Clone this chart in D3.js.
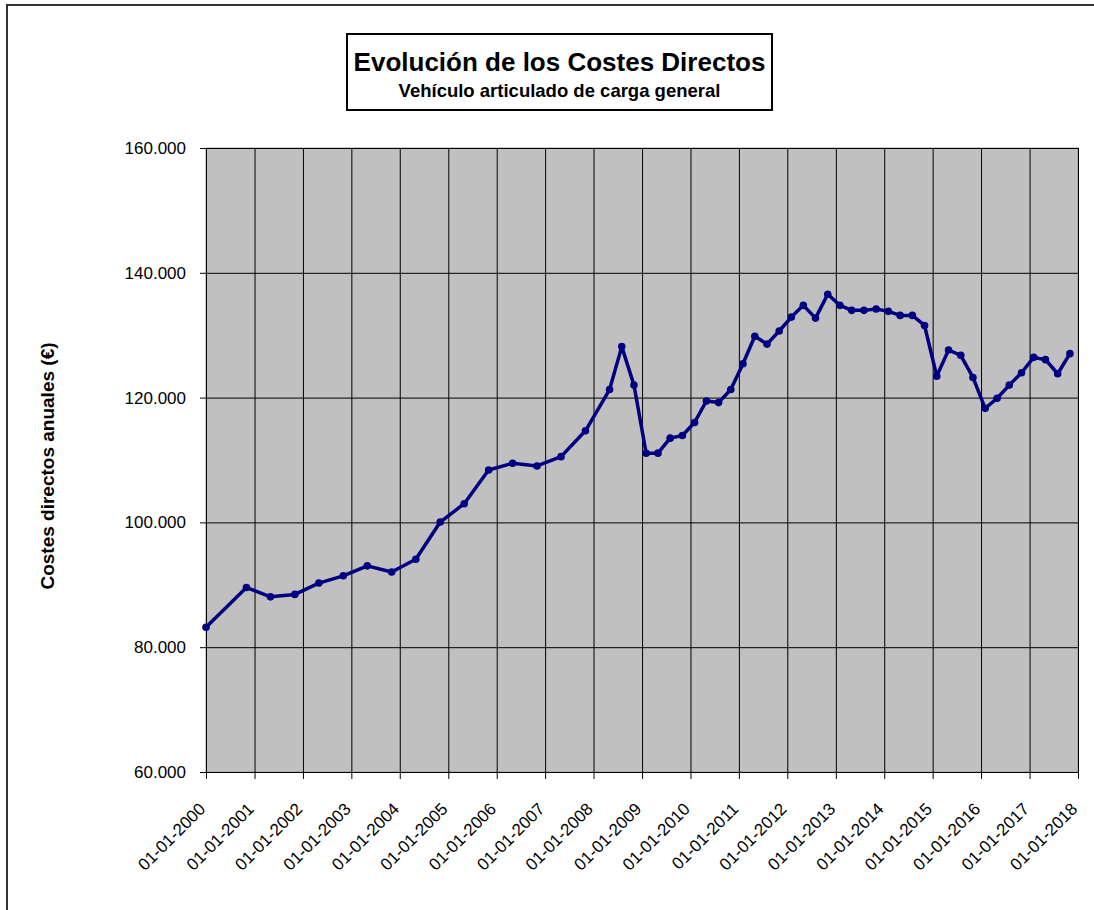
<!DOCTYPE html>
<html lang="es">
<head>
<meta charset="utf-8">
<script src="https://cdn.jsdelivr.net/npm/d3@7"></script>
<style type="text/css">
    body { margin: 0; background: #fff; }
    text { font-family: "Liberation Sans", Arial, sans-serif; }
    .axis path, .axis line { stroke: black; }
    .grid line { stroke: #000; stroke-width: 1; }
    .grid path { display: none; }
</style>
</head>
<body>
<script>
    // fechas y costes (miles de euros)
    let dates = [
        "2000-01-01", "2000-11-01", "2001-05-01", "2001-11-01", "2002-05-01", "2002-11-01",
        "2003-05-01", "2003-11-01", "2004-05-01", "2004-11-01", "2005-05-01", "2005-11-01",
        "2006-05-01", "2006-11-01", "2007-05-01", "2007-11-01", "2008-05-01", "2008-08-01",
        "2008-11-01", "2009-02-01", "2009-05-01", "2009-08-01", "2009-11-01", "2010-02-01",
        "2010-05-01", "2010-08-01", "2010-11-01", "2011-02-01", "2011-05-01", "2011-08-01",
        "2011-11-01", "2012-02-01", "2012-05-01", "2012-08-01", "2012-11-01", "2013-02-01",
        "2013-05-01", "2013-08-01", "2013-11-01", "2014-02-01", "2014-05-01", "2014-08-01",
        "2014-11-01", "2015-02-01", "2015-05-01", "2015-08-01", "2015-11-01", "2016-02-01",
        "2016-05-01", "2016-08-01", "2016-11-01", "2017-02-01", "2017-05-01", "2017-08-01",
        "2017-11-01"
    ];
    let costes = [
        83.2, 89.56, 88.07, 88.46, 90.28, 91.44,
        93.04, 92.04, 94.1, 100.06, 103.0, 108.4,
        109.47, 109.04, 110.54, 114.68, 121.29, 128.17,
        122.0, 111.08, 111.1, 113.5, 113.92, 116.02,
        119.46, 119.2, 121.29, 125.43, 129.84, 128.57,
        130.67, 132.9, 134.78, 132.74, 136.56, 134.78,
        133.98, 133.98, 134.2, 133.82, 133.17, 133.17,
        131.56, 123.44, 127.63, 126.77, 123.23, 118.28,
        119.9, 122.0, 123.98, 126.45, 126.08, 123.82,
        127.04
    ].map(v => v * 1000);
    let yTicks = [60000, 80000, 100000, 120000, 140000, 160000];
    let xTickYears = d3.range(2000, 2019);

    let w = 1094, h = 910;
    let pLeft = 206, pRight = 1078, pTop = 148, pBottom = 772;

    let parse = d3.timeParse("%Y-%m-%d");
    let data = dates.map((d, i) => ({ date: parse(d), value: costes[i] }));
    let xTicks = xTickYears.map(y => new Date(y, 0, 1));

    let svg = d3.select("body").append("svg")
        .attr("width", w)
        .attr("height", h);

    // marco exterior
    svg.append("rect")
        .attr("x", 7).attr("y", 5)
        .attr("width", 1100).attr("height", 930)
        .attr("fill", "none")
        .attr("stroke", "#333")
        .attr("stroke-width", 2);

    let xScale = d3.scaleTime()
        .domain([new Date(2000, 0, 1), new Date(2018, 0, 1)])
        .range([pLeft, pRight]);

    let yScale = d3.scaleLinear()
        .domain([60000, 160000])
        .range([pBottom, pTop]);

    // fondo del area de trazado
    svg.append("rect")
        .attr("x", pLeft).attr("y", pTop)
        .attr("width", pRight - pLeft).attr("height", pBottom - pTop)
        .attr("fill", "#C0C0C0")
        .attr("stroke", "#999")
        .attr("stroke-width", 1);

    // rejilla
    svg.append("g")
        .attr("class", "grid")
        .attr("transform", `translate(0,${pBottom})`)
        .call(d3.axisBottom(xScale).tickValues(xTicks).tickSize(-(pBottom - pTop)).tickFormat(""));

    svg.append("g")
        .attr("class", "grid")
        .attr("transform", `translate(${pLeft},0)`)
        .call(d3.axisLeft(yScale).tickValues(yTicks).tickSize(-(pRight - pLeft)).tickFormat(""));

    // ejes
    let fmtY = v => d3.format(",")(v).replace(/,/g, ".");
    svg.append("g")
        .attr("class", "axis")
        .attr("transform", `translate(${pLeft},0)`)
        .call(d3.axisLeft(yScale).tickValues(yTicks).tickSize(6).tickPadding(14).tickFormat(fmtY))
        .call(g => g.select(".domain").attr("d", `M0.5,${pTop}V${pBottom}`))
        .selectAll("text")
        .style("font-size", "17px")
        .style("font-family", "'Liberation Sans', Arial, sans-serif")
        .attr("fill", "#000");

    svg.append("g")
        .attr("class", "axis")
        .attr("transform", `translate(0,${pBottom})`)
        .call(d3.axisBottom(xScale).tickValues(xTicks).tickSize(7).tickFormat(d3.timeFormat("%d-%m-%Y")))
        .call(g => g.select(".domain").attr("d", `M${pLeft},0.5H${pRight}`))
        .selectAll("text")
        .style("font-size", "17px")
        .style("font-family", "'Liberation Sans', Arial, sans-serif")
        .attr("fill", "#000")
        .attr("text-anchor", "end")
        .attr("y", 0)
        .attr("dy", "0")
        .attr("transform", "translate(0,38) rotate(-45)");

    // serie
    let line = d3.line()
        .x(d => xScale(d.date))
        .y(d => yScale(d.value));

    svg.append("path")
        .datum(data)
        .attr("fill", "none")
        .attr("stroke", "#000080")
        .attr("stroke-width", 3.5)
        .attr("stroke-linejoin", "round")
        .attr("d", line);

    svg.append("g")
        .selectAll("circle")
        .data(data)
        .join("circle")
        .attr("cx", d => xScale(d.date))
        .attr("cy", d => yScale(d.value))
        .attr("r", 3.8)
        .attr("fill", "#000080");

    // titulo
    svg.append("rect")
        .attr("x", 347).attr("y", 34)
        .attr("width", 425).attr("height", 76)
        .attr("fill", "#fff")
        .attr("stroke", "#000")
        .attr("stroke-width", 2);

    svg.append("text")
        .attr("x", 559.5).attr("y", 71)
        .attr("text-anchor", "middle")
        .style("font-size", "26px")
        .style("font-weight", "bold")
        .text("Evolución de los Costes Directos");

    svg.append("text")
        .attr("x", 559.5).attr("y", 97)
        .attr("text-anchor", "middle")
        .style("font-size", "18.5px")
        .style("font-weight", "bold")
        .text("Vehículo articulado de carga general");

    // titulo eje Y
    svg.append("text")
        .attr("transform", "translate(54,466) rotate(-90)")
        .attr("text-anchor", "middle")
        .style("font-size", "19px")
        .style("font-weight", "bold")
        .text("Costes directos anuales (€)");
</script>
</body>
</html>
